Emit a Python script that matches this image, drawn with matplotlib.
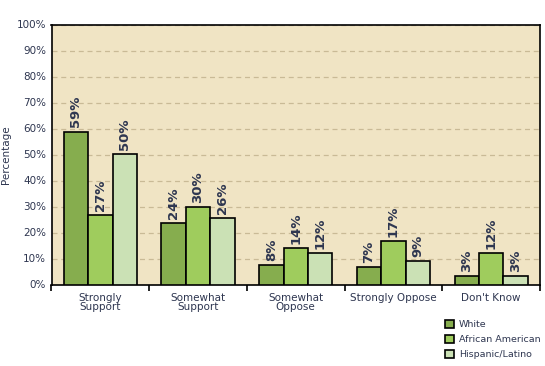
import matplotlib
matplotlib.use('Agg')
import matplotlib.pyplot as plt
import numpy as np

categories = ['Strongly\nSupport', 'Somewhat\nSupport', 'Somewhat\nOppose',
              'Strongly Oppose', "Don't Know"]
white = [58.8, 23.5, 7.4, 6.6, 3.2]
african_american = [26.6, 29.9, 13.9, 16.7, 12.0]
hispanic = [50.1, 25.5, 12.0, 8.9, 3.2]
labels_white = ['59%', '24%', '8%', '7%', '3%']
labels_aa = ['27%', '30%', '14%', '17%', '12%']
labels_hisp = ['50%', '26%', '12%', '9%', '3%']

text_color = '#2E3650'
x = np.arange(len(categories))
width = 0.25

fig = plt.figure(figsize=(5.45, 3.66), dpi=100)
ax = fig.add_axes([51.5/545, 1-284.5/366, (540-51.5)/545, (284.5-24.5)/366])
ax.set_facecolor('#F0E4C4')

series = [(white, labels_white, '#86AD4E', 'White'),
          (african_american, labels_aa, '#9FCC5D', 'African American'),
          (hispanic, labels_hisp, '#CBE1B5', 'Hispanic/Latino')]
for i, (vals, labs, col, name) in enumerate(series):
    rects = ax.bar(x + (i - 1) * width, vals, width, color=col,
                   edgecolor='black', linewidth=1.2, label=name, zorder=3)
    for rect, lab in zip(rects, labs):
        ax.annotate(lab, xy=(rect.get_x() + rect.get_width()/2, rect.get_height()),
                    xytext=(0, 3), textcoords='offset points', rotation=90,
                    ha='center', va='bottom', fontsize=9.5, fontweight='bold',
                    color=text_color)

ax.set_xlim(-0.5, len(categories) - 0.5)
ax.set_ylim(0, 100)
ax.set_yticks(np.arange(0, 101, 10))
ax.set_yticklabels(['{}%'.format(v) for v in range(0, 101, 10)])
ax.yaxis.grid(True, linestyle=(0, (4, 3)), color='#C9BA96', linewidth=0.9, zorder=0)
ax.tick_params(axis='y', length=0, labelsize=7.5, labelcolor=text_color, pad=4)

# group separators as ticks, labels at minor positions
ax.set_xticks(np.arange(-0.5, len(categories), 1))
ax.set_xticklabels([])
ax.set_xticks(x, minor=True)
ax.set_xticklabels(categories, minor=True, fontsize=7.5, color=text_color,
                   linespacing=0.95)
ax.tick_params(axis='x', which='major', length=4, width=1.2, direction='out')
ax.tick_params(axis='x', which='minor', length=0, pad=6)

for s in ax.spines.values():
    s.set_linewidth(1.2)

ax.set_ylabel('Percentage', fontsize=7.5, color=text_color, labelpad=4)
ax.yaxis.set_label_coords(-0.083, 0.5)

fig.legend(loc='upper left', bbox_to_anchor=(441/545, 1-316/366), frameon=False,
           fontsize=6.8, handlelength=0.95, handleheight=0.95, handletextpad=0.55,
           labelspacing=0.62, labelcolor=text_color, borderaxespad=0)

fig.savefig('out.png', dpi=100)
